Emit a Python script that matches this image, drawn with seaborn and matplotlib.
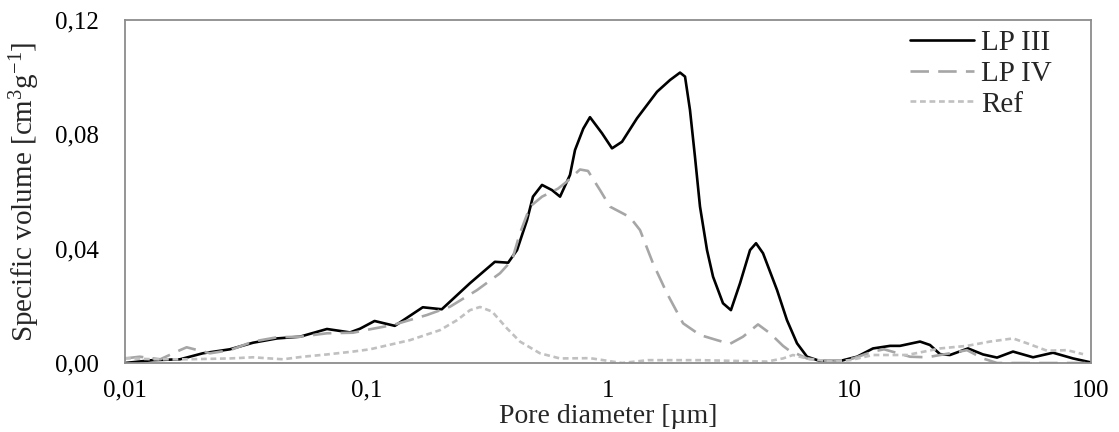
import matplotlib
matplotlib.use("Agg")
import matplotlib.pyplot as plt
import seaborn as sns
import pandas as pd
from matplotlib.ticker import FixedLocator, FixedFormatter, NullLocator

# pore diameter [um] / specific volume [cm3/g]
lp3_d = [0.0100, 0.0130, 0.0169, 0.0210, 0.0272, 0.0339, 0.0426, 0.0530, 0.0686, 0.0855,
         0.0940, 0.108, 0.131, 0.171, 0.205, 0.268, 0.340, 0.386, 0.420, 0.462,
         0.489, 0.533, 0.586, 0.633, 0.696, 0.730, 0.790, 0.842, 0.944, 1.039,
         1.143, 1.318, 1.596, 1.806, 1.987, 2.084, 2.185, 2.291, 2.404, 2.570,
         2.722, 2.993, 3.228, 3.521, 3.873, 4.101, 4.384, 5.012, 5.508, 6.061,
         6.668, 7.547, 9.135, 10.74, 12.51, 14.72, 16.18, 19.59, 21.54, 23.70,
         26.06, 30.95, 35.71, 40.81, 47.53, 57.54, 69.59, 84.24, 100.0]
lp3_v = [0.0000, 0.0010, 0.0013, 0.0034, 0.0048, 0.0071, 0.0086, 0.0092, 0.0119, 0.0107,
         0.0120, 0.0147, 0.0130, 0.0195, 0.0188, 0.0279, 0.0354, 0.0351, 0.0395, 0.0500,
         0.0582, 0.0623, 0.0605, 0.0582, 0.0658, 0.0745, 0.0820, 0.0860, 0.0804, 0.0751,
         0.0774, 0.0856, 0.0949, 0.0990, 0.1016, 0.1002, 0.0885, 0.0722, 0.0547, 0.0395,
         0.0302, 0.0209, 0.0185, 0.0279, 0.0395, 0.0419, 0.0384, 0.0255, 0.0150, 0.0069,
         0.0022, 0.0007, 0.0007, 0.0022, 0.0051, 0.0060, 0.0060, 0.0075, 0.0063, 0.0031,
         0.0028, 0.0051, 0.0030, 0.0019, 0.0040, 0.0020, 0.0036, 0.0016, 0.0002]

lp4_d = [0.0100, 0.0115, 0.0140, 0.0169, 0.0180, 0.0225, 0.0272, 0.0339, 0.0426, 0.0530,
         0.0686, 0.0879, 0.1034, 0.1287, 0.1780, 0.2218, 0.2868, 0.3571, 0.4004, 0.4321,
         0.4753, 0.5332, 0.6209, 0.6761, 0.7655, 0.8262, 0.9266, 1.019, 1.154, 1.233,
         1.357, 1.535, 1.754, 2.045, 2.404, 2.827, 3.199, 3.622, 4.179, 4.686,
         5.304, 5.600, 6.668, 8.545, 10.34, 12.51, 13.90, 17.81, 20.94, 26.06,
         30.65, 35.71, 40.81, 100.0]
lp4_v = [0.0016, 0.0022, 0.0013, 0.0045, 0.0055, 0.0034, 0.0045, 0.0075, 0.0090, 0.0092,
         0.0104, 0.0106, 0.0118, 0.0133, 0.0168, 0.0197, 0.0255, 0.0314, 0.0360, 0.0454,
         0.0547, 0.0582, 0.0610, 0.0635, 0.0677, 0.0672, 0.0605, 0.0547, 0.0523, 0.0510,
         0.0465, 0.0349, 0.0244, 0.0139, 0.0098, 0.0080, 0.0067, 0.0092, 0.0135, 0.0104,
         0.0060, 0.0045, 0.0016, 0.0005, 0.0016, 0.0040, 0.0048, 0.0022, 0.0020, 0.0034,
         0.0045, 0.0016, 0.0000, 0.0000]

ref_d = [0.0100, 0.0131, 0.0180, 0.0272, 0.0339, 0.0451, 0.0546, 0.0686, 0.0879, 0.1034,
         0.1514, 0.2015, 0.2371, 0.2683, 0.2952, 0.3311, 0.3818, 0.4321, 0.5226, 0.6326,
         0.8425, 1.143, 1.464, 2.404, 4.554, 5.304, 5.834, 6.861, 8.545, 10.05,
         12.51, 17.30, 23.70, 30.65, 38.17, 47.53, 54.33, 65.77, 79.55, 92.66]
ref_v = [0.0017, 0.0013, 0.0013, 0.0016, 0.0020, 0.0013, 0.0022, 0.0030, 0.0040, 0.0048,
         0.0080, 0.0115, 0.0150, 0.0185, 0.0196, 0.0180, 0.0121, 0.0075, 0.0034, 0.0016,
         0.0017, 0.0000, 0.0010, 0.0010, 0.0005, 0.0016, 0.0028, 0.0013, 0.0005, 0.0010,
         0.0028, 0.0028, 0.0051, 0.0060, 0.0075, 0.0086, 0.0069, 0.0043, 0.0045, 0.0031]

x_ticks = [0.01, 0.1, 1, 10, 100]
x_labels = ["0,01", "0,1", "1", "10", "100"]
y_ticks = [0.00, 0.04, 0.08, 0.12]
y_labels = ["0,00", "0,04", "0,08", "0,12"]

sns.set_style("white")
plt.rcParams['font.family'] = ['Liberation Serif', 'DejaVu Serif']
plt.rcParams['mathtext.fontset'] = 'custom'
plt.rcParams['mathtext.rm'] = 'Liberation Serif'
plt.rcParams['mathtext.it'] = 'Liberation Serif:italic'

fig = plt.figure(figsize=(11.19, 4.32), dpi=100)
ax = fig.add_axes([0.1117, 0.1597, 0.8633, 0.794])

frame_col = "#8c8c8c"
series = [
    ("LP III", lp3_d, lp3_v, "black", "-"),
    ("LP IV", lp4_d, lp4_v, "#a6a6a6", (0, (7, 3.5))),
    ("Ref", ref_d, ref_v, "#c0c0c0", (0, (2.2, 1.4))),
]
for name, d, v, col, ls in series:
    df = pd.DataFrame({"d": d, "v": v})
    sns.lineplot(data=df, x="d", y="v", ax=ax, color=col, linestyle=ls,
                 linewidth=1.9, label=name, sort=False, estimator=None)

ax.set_xscale('log')
ax.set_xlim(0.01, 100)
ax.set_ylim(0, 0.12)
ax.xaxis.set_major_locator(FixedLocator(x_ticks))
ax.xaxis.set_major_formatter(FixedFormatter(x_labels))
ax.xaxis.set_minor_locator(NullLocator())
ax.yaxis.set_major_locator(FixedLocator(y_ticks))
ax.yaxis.set_major_formatter(FixedFormatter(y_labels))

for s in ax.spines.values():
    s.set_visible(True)
    s.set_color(frame_col)
    s.set_linewidth(1.3)
ax.tick_params(axis='both', which='major', direction='out', length=6, width=1.2,
               color=frame_col, labelsize=18, labelcolor='black')
ax.tick_params(axis='y', pad=13)
ax.tick_params(axis='x', pad=6)

ax.set_xlabel("Pore diameter [µm]", fontsize=20)
ax.xaxis.set_label_coords(0.5, -0.12)
ax.set_ylabel(r"Specific volume [cm$^3$g$^{-1}$]", fontsize=21)
ax.yaxis.set_label_coords(-0.086, 0.5)

ax.legend(loc='upper right', bbox_to_anchor=(0.9596, 0.972), frameon=False,
          fontsize=21, handlelength=2.2, handletextpad=0.25, labelspacing=0.15,
          borderpad=0, borderaxespad=0)

fig.savefig("out.png", dpi=100)
